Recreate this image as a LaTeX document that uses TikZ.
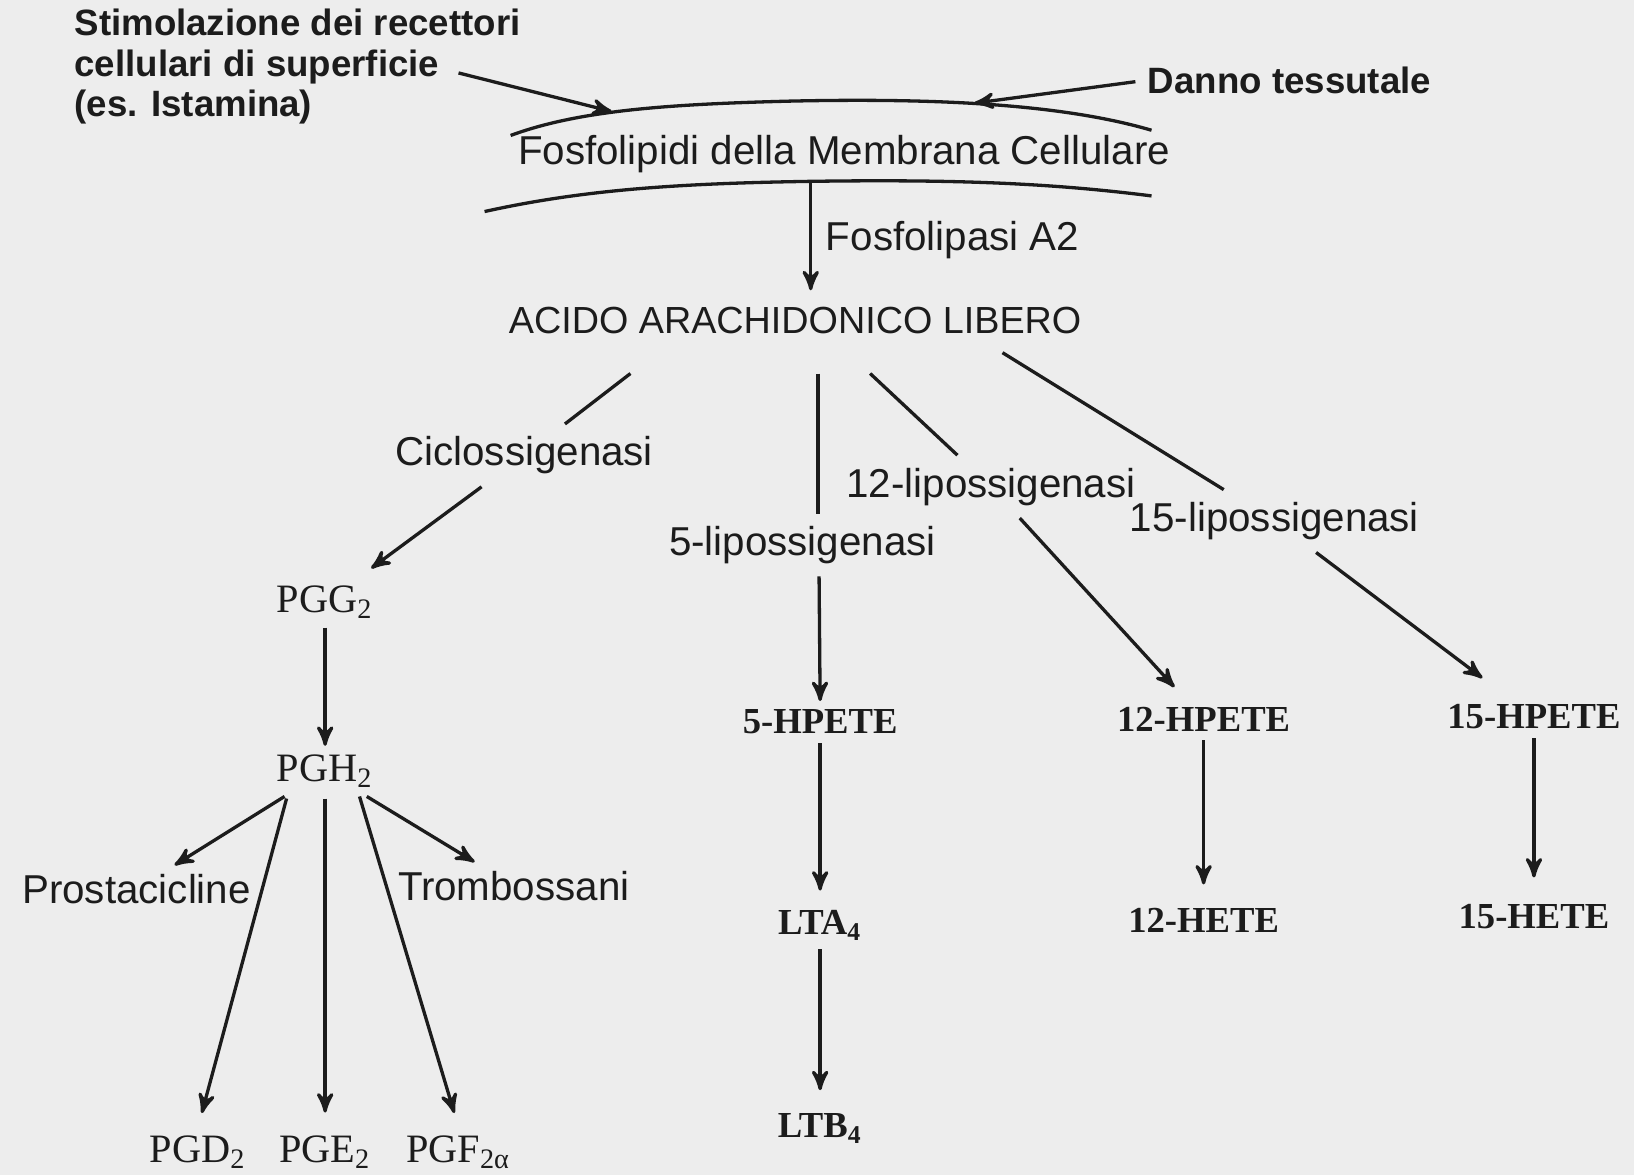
\documentclass[tikz,border=0pt]{standalone}
\usepackage{fontspec}
\setmainfont{Liberation Serif}
\setsansfont{Liberation Sans}
\usepackage{tikz}
\usetikzlibrary{positioning}
\usetikzlibrary{arrows,calc}
\definecolor{carta}{RGB}{237,237,237}
\definecolor{inchiostro}{RGB}{28,28,28}
\tikzstyle{txt_s} = [font=\sffamily\fontsize{11}{11}\selectfont, inner sep=2pt]
\tikzstyle{txt_b} = [font=\sffamily\bfseries\fontsize{10}{11}\selectfont, align=left, inner sep=0pt]
\tikzstyle{enz_n} = [txt_s, inner sep=3pt]
\tikzstyle{mol_r} = [font=\rmfamily\fontsize{11}{11}\selectfont, inner sep=2pt]
\tikzstyle{mol_b} = [font=\rmfamily\bfseries\fontsize{10}{10}\selectfont, inner sep=2pt]

\begin{document}
\begin{tikzpicture}[->,>=stealth',x=0.01cm,y=-0.01cm,line width=0.9pt,color=inchiostro]
\useasboundingbox (0,0) rectangle (1568,1128);
\fill[carta,-] (0,0) rectangle (1568,1128);

% membrana cellulare
\draw[-] (490,130) .. controls (555,106) and (640,100) .. (760,97) .. controls (900,94) and (1020,100) .. (1105,125);
\draw[-] (465,203) .. controls (560,182) and (650,176) .. (780,174) .. controls (920,172) and (1010,176) .. (1105,188);
\coordinate (recA) at (587,107);
\coordinate (recB) at (935,99);

\node[txt_b, anchor=west] (stim) at (70,64) {Stimolazione dei recettori\\cellulari di superficie\\(es. Istamina)};
\node[txt_b, anchor=west] (danno) at (1100,77) {Danno tessutale};
\node[txt_s] (fosfo) at (810,148) {Fosfolipidi della Membrana Cellulare};
\node[txt_s, anchor=west] (fla2) at (784,230) {Fosfolipasi A2};
\node[txt_s, font=\sffamily\fontsize{10.3}{11}\selectfont] (acido) at (763,308) {ACIDO ARACHIDONICO LIBERO};

% enzimi
\node[enz_n] (cox) at (503,437) {Ciclossigenasi};
\node[enz_n] (lox12) at (951,467) {12-lipossigenasi};
\node[enz_n] (lox5) at (770,523) {5-lipossigenasi};
\node[enz_n] (lox15) at (1223,500) {15-lipossigenasi};

% prodotti
\node[mol_r] (pgg2) at (312,578) {PGG\textsubscript{2}};
\node[mol_r] (pgh2) at (312,740) {PGH\textsubscript{2}};
\node[mol_b] (hpete5) at (787,693) {5-HPETE};
\node[mol_b] (hpete12) at (1155,690) {12-HPETE};
\node[mol_b] (hpete15) at (1472,688) {15-HPETE};
\node[mol_b] (lta4) at (787,888) {LTA\textsubscript{4}};
\node[mol_b] (hete12) at (1155,883) {12-HETE};
\node[mol_b] (hete15) at (1472,880) {15-HETE};
\node[mol_b] (ltb4) at (787,1083) {LTB\textsubscript{4}};
\node[txt_s] (prostac) at (131,853) {Prostacicline};
\node[txt_s] (tromb) at (493,850) {Trombossani};
\node[mol_r] (pgd2) at (190,1106) {PGD\textsubscript{2}};
\node[mol_r] (pge2) at (312,1106) {PGE\textsubscript{2}};
\node[mol_r] (pgf2a) at (440,1106) {PGF\textsubscript{2α}};

\draw ($(stim.west)+(370,6)$) -- (recA);
\draw[shorten <=3pt] (danno.west) -- (recB);
\draw ($(fosfo.south)+(-32,0)$) -- ($(acido.north)+(15,-8)$);

\draw[-] ($(acido.south)+(-158,29)$) -- (cox);
\draw[shorten >=4pt] (cox) -- (pgg2);
\draw[-] ($(acido.south)+(22,29)$) -- ($(lox5.north)+(15,0)$);
\draw ($(lox5.south)+(16,0)$) -- (hpete5.north);
\draw[-] ($(acido.south)+(72,29)$) -- (lox12);
\draw[shorten >=4pt] (lox12) -- (hpete12);
\draw[-] ($(acido.south)+(199,9)$) -- (lox15);
\draw[shorten >=8pt] (lox15) -- (hpete15);

\draw (pgg2) -- (pgh2);
\draw[shorten >=3pt] (hpete5) -- (lta4);
\draw[shorten >=4pt] (lta4) -- (ltb4);
\draw[shorten >=4pt] (hpete12) -- (hete12);
\draw[shorten >=5pt] (hpete15) -- (hete15);

\draw (pgh2) -- (prostac);
\draw (pgh2) -- (tromb);
\draw[shorten >=4pt] ($(pgh2.south)+(-37,2)$) -- (pgd2.north);
\draw[shorten >=4pt] ($(pgh2.south)+(0,2)$) -- (pge2.north);
\draw[shorten >=4pt] ($(pgh2.south)+(33,0)$) -- (pgf2a.north);
\end{tikzpicture}
\end{document}
